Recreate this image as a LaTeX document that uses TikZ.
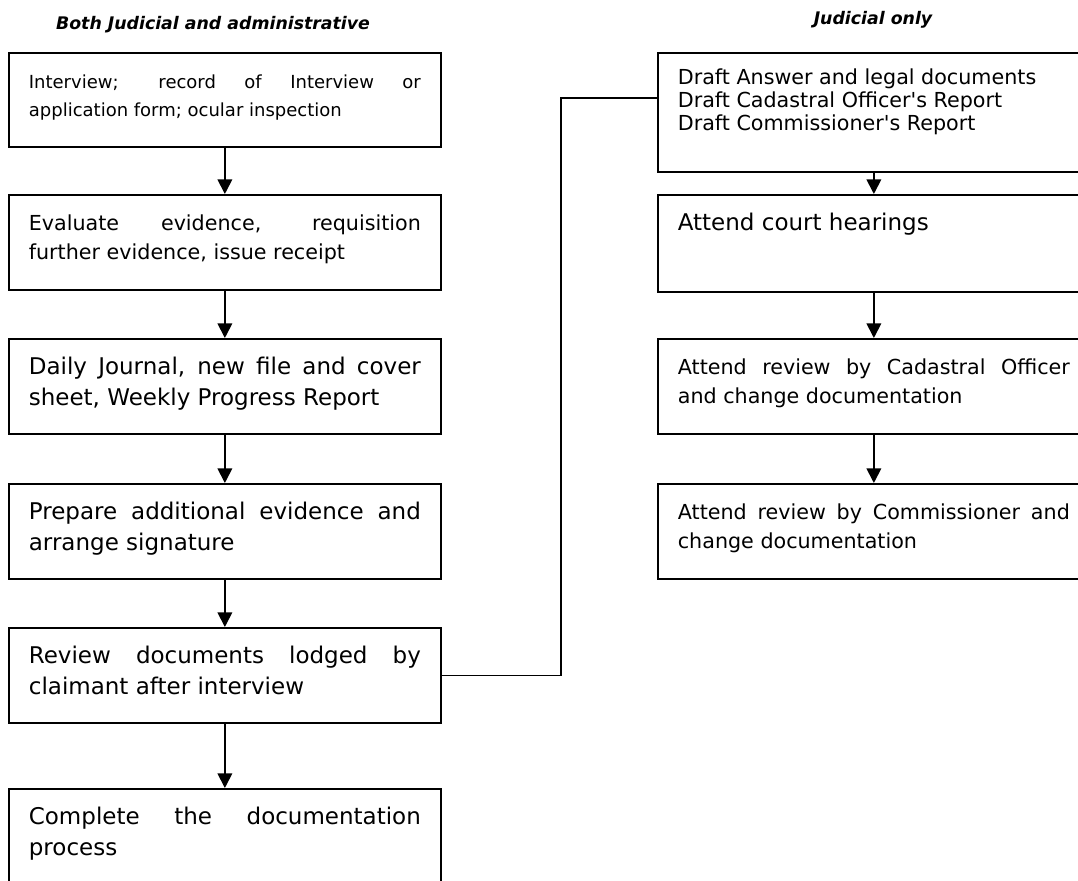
\documentclass[tikz,border=0pt]{standalone}
\usepackage{fontspec}
\setmainfont[Ligatures=TeXOff]{DejaVu Sans}
\usetikzlibrary{arrows.meta,positioning}
\hyphenpenalty=10000
\exhyphenpenalty=10000

\begin{document}
\begin{tikzpicture}[x=0.75pt,y=-0.75pt,
box/.style={draw,line width=1.3pt,anchor=north west,inner xsep=15pt,inner ysep=0pt,
  text width=294pt,align=justify,text height=27pt,text depth=44.25pt},
small/.style={font=\fontsize{15.5}{21.75}\selectfont},
big/.style={font=\fontsize{17.25}{23.25}\selectfont},
head/.style={font=\fontsize{13}{15}\selectfont\bfseries\itshape},
arr/.style={-{Triangle[length=11pt,width=11pt]},line width=1.3pt},
link/.style={line width=1.3pt}]
\useasboundingbox (0,0) rectangle (1078,881);

% headings
\node[head] (both) at (213,25) {Both Judicial and administrative};
\node[head] (judonly) at (873,20) {Judicial only};

% left column
\node[box,font=\fontsize{13.5}{21}\selectfont,text depth=43.5pt] (interview) at (8,52)
  {Interview; record of Interview or\linebreak application form; ocular inspection};
\node[box,small] (evaluate) at (8,194)
  {Evaluate evidence, requisition\linebreak further evidence, issue receipt};
\node[box,big] (journal) at (8,338)
  {Daily Journal, new file and cover\linebreak sheet, Weekly Progress Report};
\node[box,big] (prepare) at (8,483)
  {Prepare additional evidence and\linebreak arrange signature};
\node[box,big] (review) at (8,627)
  {Review documents lodged by\linebreak claimant after interview};
\node[box,big] (complete) at (8,788)
  {Complete the documentation\linebreak process};

% right column
\node[box,font=\fontsize{15.5}{17.25}\selectfont,text height=24pt,text depth=65.25pt] (draft) at (657,52)
  {Draft Answer and legal documents\\ Draft Cadastral Officer's Report\\ Draft Commissioner's Report};
\node[box,big,text depth=45.75pt] (court) at (657,194) {Attend court hearings};
\node[box,small] (cadastral) at (657,338)
  {Attend review by Cadastral Officer\linebreak and change documentation};
\node[box,small] (commissioner) at (657,483)
  {Attend review by Commissioner and\linebreak change documentation};

% arrows
\draw[arr] (interview.south) -- (evaluate.north);
\draw[arr] (evaluate.south) -- (journal.north);
\draw[arr] (journal.south) -- (prepare.north);
\draw[arr] (prepare.south) -- (review.north);
\draw[arr] (review.south) -- (complete.north);
\draw[arr] (draft.south) -- (court.north);
\draw[arr] (court.south) -- (cadastral.north);
\draw[arr] (cadastral.south) -- (commissioner.north);

% link to judicial column
\coordinate (bend) at (561,98);
\draw[link] (review.east) -| (bend) -- (draft.west |- bend);
\end{tikzpicture}
\end{document}
